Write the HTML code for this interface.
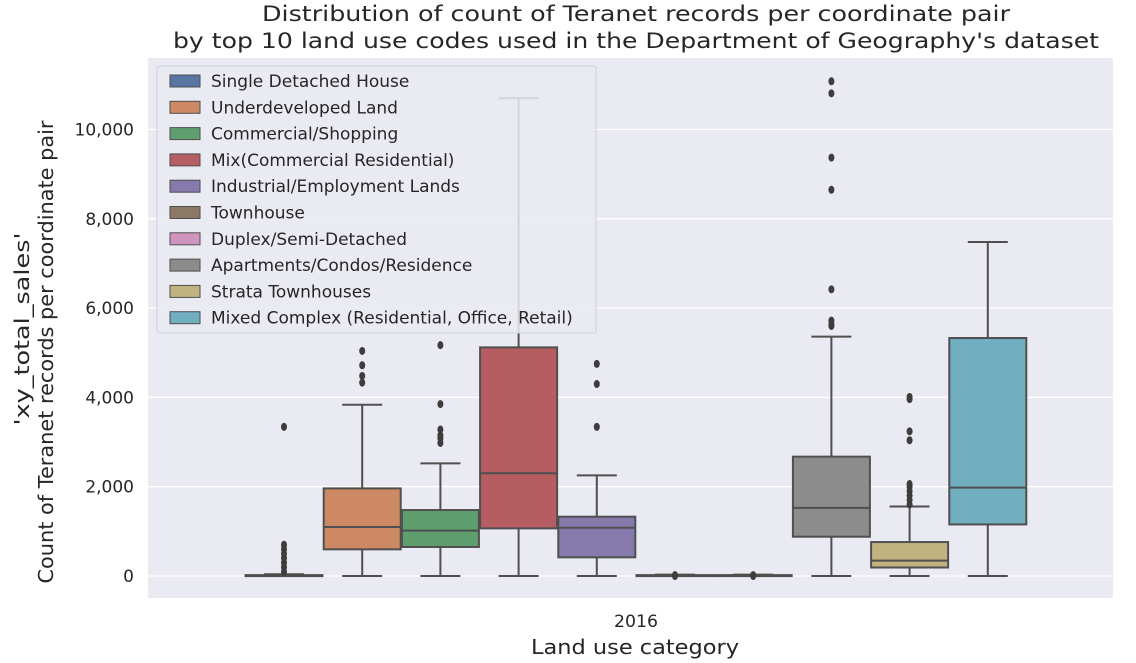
<!DOCTYPE html>
<html><head><meta charset="utf-8"><style>
body{margin:0;background:#fff;}
svg{display:block;font-family:"DejaVu Sans","Liberation Sans",sans-serif;}
</style></head><body>
<svg id="chart" width="1136" height="663" viewBox="0 0 1136 663">
<rect x="148" y="58" width="965" height="540" fill="#eaeaf2"/>
<g id="grid"></g><g id="boxes"></g><g id="yticks"></g>
<text x="636" y="21" text-anchor="middle" font-size="21" fill="#262626" textLength="748" lengthAdjust="spacingAndGlyphs">Distribution of count of Teranet records per coordinate pair</text>
<text x="636" y="48" text-anchor="middle" font-size="21" fill="#262626" textLength="926" lengthAdjust="spacingAndGlyphs">by top 10 land use codes used in the Department of Geography's dataset</text>
<text x="636" y="627" text-anchor="middle" font-size="17" fill="#262626" textLength="44" lengthAdjust="spacingAndGlyphs">2016</text>
<text x="635" y="654" text-anchor="middle" font-size="20" fill="#262626" textLength="208" lengthAdjust="spacingAndGlyphs">Land use category</text>
<text transform="translate(29,329) rotate(-90)" text-anchor="middle" font-size="20" fill="#262626" textLength="193" lengthAdjust="spacingAndGlyphs">'xy_total_sales'</text>
<text transform="translate(53,352) rotate(-90)" text-anchor="middle" font-size="20" fill="#262626" textLength="463" lengthAdjust="spacingAndGlyphs">Count of Teranet records per coordinate pair</text>
<g id="legend"></g>
</svg>
<script>
const categories=["Single Detached House","Underdeveloped Land","Commercial/Shopping","Mix(Commercial Residential)","Industrial/Employment Lands","Townhouse","Duplex/Semi-Detached","Apartments/Condos/Residence","Strata Townhouses","Mixed Complex (Residential, Office, Retail)"];
const colors=["#5975a4","#cc8963","#5f9e6e","#b55d60","#857aab","#8d7866","#d095bf","#8c8c8c","#c1b37f","#71aec0"];
const q1=[5,597,650,1067,418,5,5,880,190,1155];
const median=[10,1097,1015,2300,1082,10,10,1525,345,1980];
const q3=[20,1962,1477,5120,1328,20,20,2673,760,5330];
const whiskLo=[0,0,0,0,0,0,0,0,0,0];
const whiskHi=[40,3835,2522,10700,2253,30,30,5360,1556,7480];
const outliers=[[100,200,300,400,500,600,700,3340],[4330,4480,4720,5040],[2980,3080,3150,3280,3850,5170],[],[3340,4300,4750],[0,20],[0,20],[5600,5650,5720,6420,8650,9370,10810,11080],[1600,1700,1800,1900,2000,2060,3040,3240,3960,4010],[]];
const yTicks=[0,2000,4000,6000,8000,10000];
const yTickLabels=["0","2,000","4,000","6,000","8,000","10,000"];
const NS="http://www.w3.org/2000/svg";
const y=v=>576-v*0.04465;
const xc=i=>284+i*78.2;
function mk(tag,attrs,parent){const e=document.createElementNS(NS,tag);for(const k in attrs)e.setAttribute(k,attrs[k]);parent.appendChild(e);return e;}
const grid=document.getElementById('grid'),yt=document.getElementById('yticks'),bx=document.getElementById('boxes'),lg=document.getElementById('legend');
yTicks.forEach((t,i)=>{
 const l=mk('line',{x1:148,x2:1113,y1:y(t),y2:y(t),stroke:'#fff','stroke-width':1.3},grid);
 
 
 const tx=mk('text',{x:134,y:y(t)+6,'text-anchor':'end','font-size':17,fill:'#262626'},yt);
 tx.textContent=yTickLabels[i];
 
 
});
const ln='#4f4f4f';
categories.forEach((c,i)=>{
 const g=mk('g',{},bx);
 
 
 const cx=xc(i),hw=38.5,cap=20;
 mk('line',{x1:cx,x2:cx,y1:y(q3[i]),y2:y(whiskHi[i]),stroke:ln,'stroke-width':2},g);
 mk('line',{x1:cx,x2:cx,y1:y(q1[i]),y2:y(whiskLo[i]),stroke:ln,'stroke-width':2},g);
 mk('line',{x1:cx-cap,x2:cx+cap,y1:y(whiskHi[i]),y2:y(whiskHi[i]),stroke:ln,'stroke-width':2},g);
 mk('line',{x1:cx-cap,x2:cx+cap,y1:y(whiskLo[i]),y2:y(whiskLo[i]),stroke:ln,'stroke-width':2},g);
 mk('rect',{x:cx-hw,y:y(q3[i]),width:hw*2,height:Math.max(1,y(q1[i])-y(q3[i])),fill:colors[i],stroke:ln,'stroke-width':2},g);
 mk('line',{x1:cx-hw,x2:cx+hw,y1:y(median[i]),y2:y(median[i]),stroke:ln,'stroke-width':2},g);
 outliers[i].forEach(o=>{mk('ellipse',{cx:cx,cy:y(o),rx:3,ry:4,fill:'#3d3d3d'},g);});
});
mk('rect',{x:157,y:66,width:439,height:267,rx:3,fill:'#eaeaf2','fill-opacity':0.85,stroke:'#d0d0d8'},lg);
categories.forEach((c,i)=>{
 const yy=81+i*26.3;
 const p=mk('rect',{x:170,y:yy-6,width:30,height:12,fill:colors[i],stroke:ln,'stroke-width':1},lg);
 
 
 const t=mk('text',{x:211,y:yy+6,'font-size':17,fill:'#262626'},lg);
 t.textContent=c;
 
 
});
</script>
</body></html>
